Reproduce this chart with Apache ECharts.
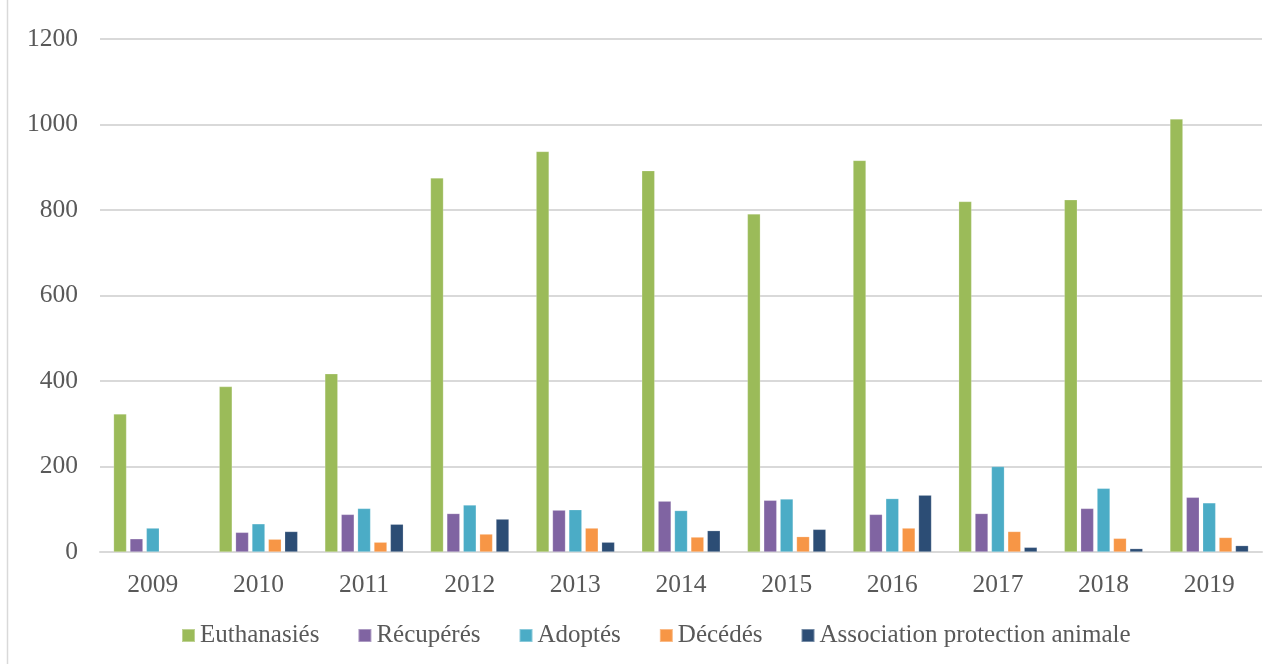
<!DOCTYPE html>
<html>
<head>
<meta charset="utf-8">
<script src="https://cdn.jsdelivr.net/npm/echarts@6/dist/echarts.min.js"></script>
<style>
html,body{margin:0;padding:0;background:#fff;}
#c{width:1279px;height:664px;}
</style>
</head>
<body>
<div id="c"></div>
<script>
const years = ['2009','2010','2011','2012','2013','2014','2015','2016','2017','2018','2019'];
const euthanasies = [323, 387, 417, 875, 937, 892, 791, 916, 820, 824, 1013];
const recuperes   = [31, 46, 88, 90, 98, 119, 121, 88, 90, 102, 128];
const adoptes     = [56, 66, 102, 110, 99, 97, 124, 125, 200, 149, 115];
const decedes     = [null, 30, 23, 42, 56, 35, 36, 56, 48, 32, 34];
const association = [null, 48, 65, 77, 23, 50, 53, 133, 11, 8, 15];
const yTicks = [0, 200, 400, 600, 800, 1000, 1200];

const names = ['Euthanasiés','Récupérés','Adoptés','Décédés','Association protection animale'];
const colors = ['#9BBB59','#8064A2','#4BACC6','#F79646','#2C4D75'];
const datasets = [euthanasies, recuperes, adoptes, decedes, association];
const font = '"Liberation Serif", "DejaVu Serif", serif';

const chart = echarts.init(document.getElementById('c'));
chart.setOption({
  animation: false,
  backgroundColor: '#fff',
  textStyle: { fontFamily: font },
  graphic: [{
    type: 'line', shape: { x1: 7.5, y1: 0, x2: 7.5, y2: 664 },
    style: { stroke: '#D9D9D9', lineWidth: 1.5 }
  }],
  grid: { left: 100, right: 17, top: 39, bottom: 112, containLabel: false },
  legend: {
    data: names,
    bottom: 11,
    left: 176,
    itemWidth: 13, itemHeight: 13, itemGap: 38,
    icon: 'rect',
    textStyle: { color: '#595959', fontSize: 25, fontFamily: font }
  },
  xAxis: {
    type: 'category',
    data: years,
    axisLine: { lineStyle: { color: '#D9D9D9', width: 2 } },
    axisTick: { show: false },
    axisLabel: { color: '#595959', fontSize: 25.5, fontFamily: font, margin: 20 }
  },
  yAxis: {
    type: 'value',
    min: yTicks[0], max: yTicks[yTicks.length-1], interval: 200,
    axisLine: { show: false },
    axisTick: { show: false },
    splitLine: { lineStyle: { color: '#D9D9D9', width: 2 } },
    axisLabel: { color: '#595959', fontSize: 25.5, fontFamily: font, margin: 22, formatter: v => String(v) }
  },
  series: names.map((n, i) => ({
    name: n,
    type: 'bar',
    data: datasets[i],
    barWidth: 13,
    barGap: '26%',
    itemStyle: { color: colors[i], borderColor: 'rgba(255,255,255,0.35)', borderWidth: 0.6 }
  }))
});
</script>
</body>
</html>
